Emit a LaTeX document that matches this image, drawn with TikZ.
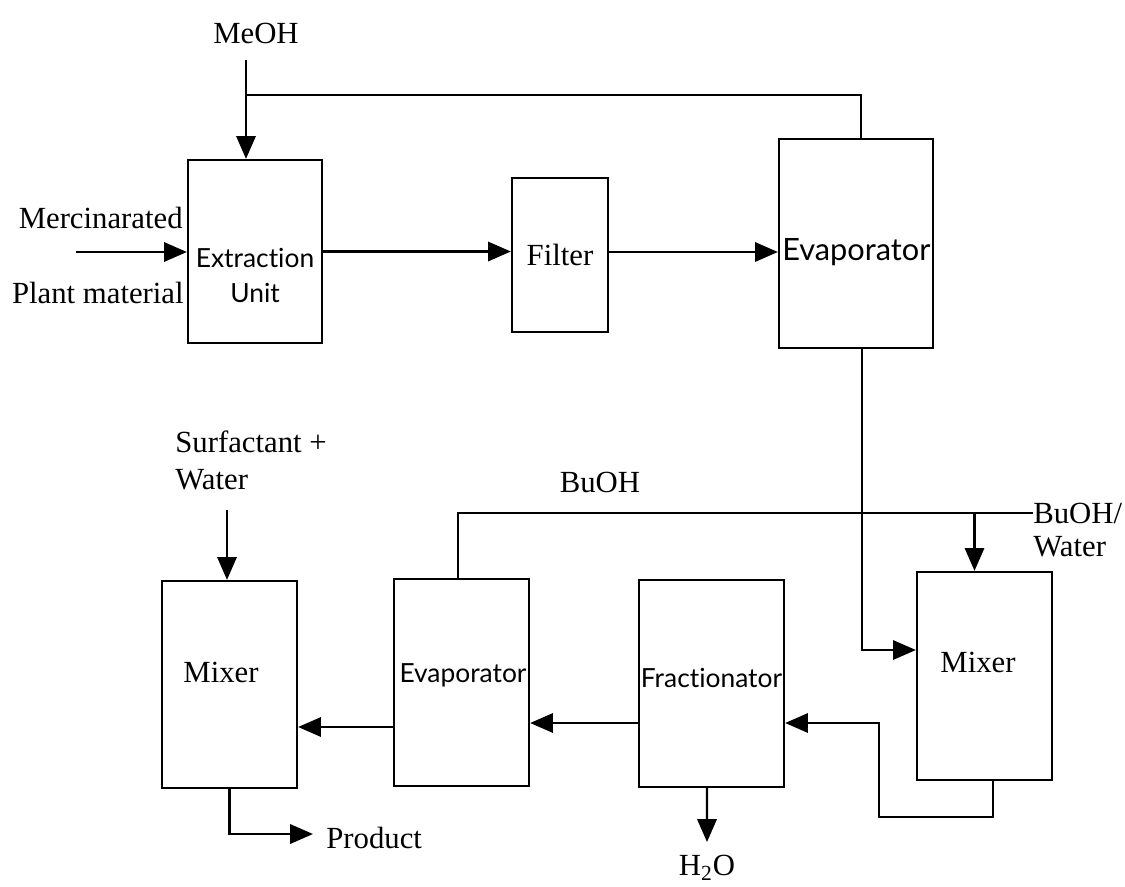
\documentclass[tikz,border=0pt]{standalone}
\usepackage{fontspec}
\setmainfont{Liberation Serif}
\newfontfamily\gsans[Ligatures=NoCommon]{Lato}
\usetikzlibrary{arrows.meta}
\tikzset{
  box/.style={draw, line width=1.3pt, inner sep=0pt, fill=none},
  flow/.style={line width=1.3pt},
  arr/.style={line width=1.3pt, -{Triangle[length=13pt,width=11pt]}},
  lbl/.style={inner sep=0pt, font=\fontsize{17.5}{20}\selectfont},
  slbl/.style={inner sep=0pt, font=\gsans\fontsize{15}{18}\selectfont},
}
\begin{document}
\begin{tikzpicture}[x=0.02cm, y=-0.02cm]
\useasboundingbox (0,0) rectangle (1125,886);
% boxes
\node[box, minimum width=134*0.02cm, minimum height=183*0.02cm] (ext) at (255,251.5) {};
\node[box, minimum width=96*0.02cm, minimum height=154*0.02cm, lbl] (filt) at (560,255) {Filter};
\node[box, minimum width=154*0.02cm, minimum height=209*0.02cm] (evap1) at (856,243.5) {};
\node[box, minimum width=135*0.02cm, minimum height=207*0.02cm] (mixL) at (229.5,684.5) {};
\node[box, minimum width=135*0.02cm, minimum height=207*0.02cm] (evap2) at (461.5,682.5) {};
\node[box, minimum width=145*0.02cm, minimum height=207*0.02cm] (frac) at (711.5,683.5) {};
\node[box, minimum width=135*0.02cm, minimum height=208*0.02cm] (mixR) at (984.5,676) {};
% box texts
\node[slbl] (extT1) at (255,258) {Extraction};
\node[slbl] (extT2) at (255,293) {Unit};
\node[slbl, anchor=west, font=\gsans\fontsize{17.5}{20}\selectfont] (evap1T) at (782,252) {Evaporator};
\node[lbl] (mixLT) at (221,672) {Mixer};
\node[slbl] (evap2T) at (463,675) {Evaporator};
\node[slbl] (fracT) at (711.5,678) {Fractionator};
\node[lbl] (mixRT) at (978,662) {Mixer};
% outside labels
\node[lbl] (meoh) at (256,33) {MeOH};
\node[lbl, anchor=east] (merc) at (183,218) {Mercinarated};
\node[lbl, anchor=east] (plant) at (184,293) {Plant material};
\node[lbl] (buoh) at (600,482) {BuOH};
\node[lbl, anchor=west] (surf1) at (175,442) {Surfactant +};
\node[lbl, anchor=west] (surf2) at (175,480) {Water};
\node[lbl, anchor=west] (buw) at (1033,513) {BuOH/};
\node[lbl, anchor=west] (buw2) at (1033,547) {Water};
\node[lbl, anchor=west] (prod) at (326,838) {Product};
\node[lbl] (h2o) at (707,868) {H\textsubscript{2}O};
% free-end coordinates
\coordinate (meohS) at (246,60);
\coordinate (jn) at (246,95);
\coordinate (mIn) at (76,252);
\coordinate (sS) at (227,510);
\coordinate (loopA) at (879,817);
\coordinate (h2oT) at (707,842);
% connectors
\draw[arr] (meohS) -- (meohS |- ext.north);
\draw[flow] ([xshift=0.1cm]evap1.north) |- (jn);
\draw[arr] (mIn) -- (mIn -| ext.west);
\draw[arr] (ext.east) -- (ext.east -| filt.west);
\draw[arr] ([yshift=0.06cm]filt.east) -- ([yshift=0.06cm]filt.east -| evap1.west);
\draw[arr] ([xshift=0.12cm]evap1.south) |- ([yshift=0.52cm]mixR.west);
\draw[flow] ([xshift=-0.07cm]evap2.north) |- (buw.west);
\draw[arr] ([xshift=-0.2cm]mixR.north |- buw.west) -- ([xshift=-0.2cm]mixR.north);
\draw[arr] ([xshift=0.17cm]mixR.south) |- (loopA) |- ([yshift=-0.79cm]frac.east);
\draw[arr] ([yshift=-0.79cm]frac.west) -- ([yshift=-0.79cm]frac.west -| evap2.east);
\draw[arr] ([yshift=-0.89cm]evap2.west) -- ([yshift=-0.89cm]evap2.west -| mixL.east);
\draw[arr] ([xshift=-0.09cm]frac.south) -- (h2oT);
\draw[arr] (sS) -- (sS |- mixL.north);
\draw[arr] (mixL.south) |- ([xshift=-0.26cm, yshift=0.08cm]prod.west);
\end{tikzpicture}
\end{document}
